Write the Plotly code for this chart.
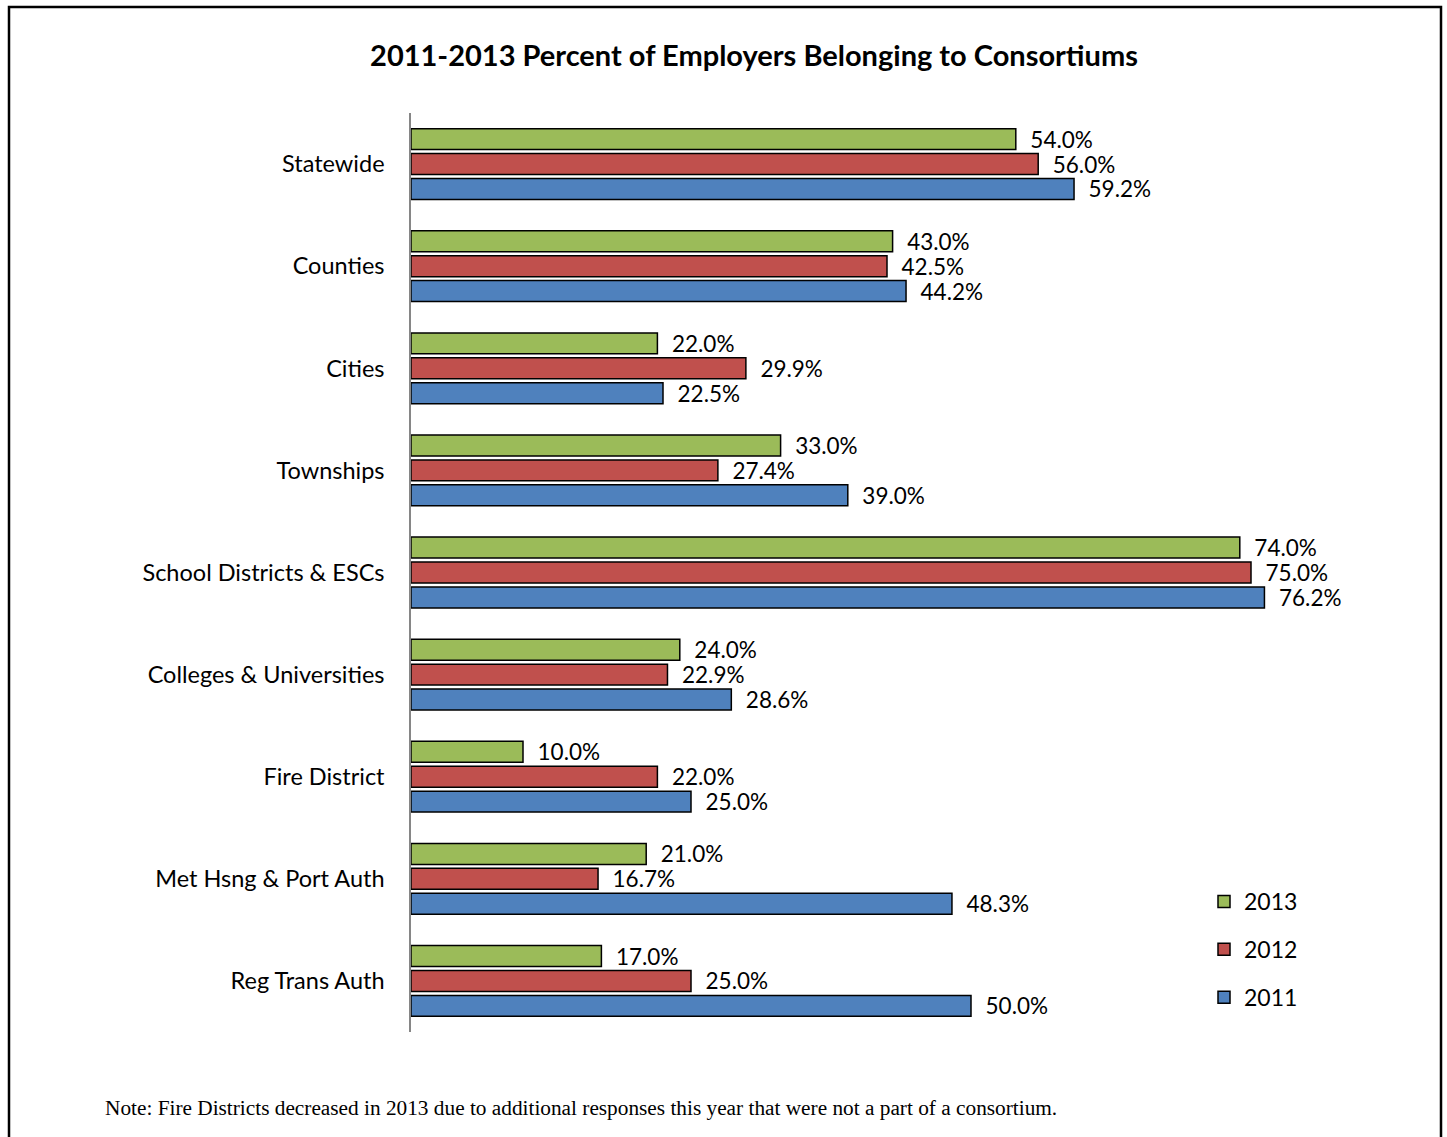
import plotly.graph_objects as go

categories = ["Statewide", "Counties", "Cities", "Townships", "School Districts & ESCs",
              "Colleges & Universities", "Fire District", "Met Hsng & Port Auth", "Reg Trans Auth"]
years = ["2013", "2012", "2011"]
values_2013 = [54.0, 43.0, 22.0, 33.0, 74.0, 24.0, 10.0, 21.0, 17.0]
values_2012 = [56.0, 42.5, 29.9, 27.4, 75.0, 22.9, 22.0, 16.7, 25.0]
values_2011 = [59.2, 44.2, 22.5, 39.0, 76.2, 28.6, 25.0, 48.3, 50.0]
colors = ["#9BBB59", "#C0504D", "#4F81BD"]
title = "2011-2013 Percent of Employers Belonging to Consortiums"
note = "Note: Fire Districts decreased in 2013 due to additional responses this year that were not a part of a consortium."

W, H = 1447, 1137
L, R, T, B = 411, 140, 113, 105
XMAX = 80.0
pw = W - L - R
ph = H - T - B

def px_x(p):
    return (p - L) / pw

def px_y(p):
    return 1 - (p - T) / ph

font = "Lato, 'Noto Sans', sans-serif"

fig = go.Figure()
for name, vals, col in zip(years, [values_2013, values_2012, values_2011], colors):
    fig.add_trace(go.Bar(
        name=name, y=categories, x=vals, orientation="h",
        marker=dict(color=col, line=dict(color="black", width=1.5)),
        text=[f"\u00a0\u00a0{v:.1f}%" for v in vals],
        textposition="outside", constraintext="none", cliponaxis=False,
        textfont=dict(family=font, size=22.5, color="black"),
        legendgroup=name, hoverinfo="skip",
    ))

fig.update_layout(
    width=W, height=H,
    margin=dict(l=L, r=R, t=T, b=B),
    paper_bgcolor="white", plot_bgcolor="white",
    barmode="group", bargap=0.268, bargroupgap=0.16,
    font=dict(family=font, size=22, color="black"),
    title=dict(text="<b>" + title + "</b>", x=px_x(754), xref="paper", xanchor="center",
               y=1 - 56 / H, yanchor="middle", font=dict(family=font, size=29, color="black")),
    xaxis=dict(range=[0, XMAX], visible=False, showgrid=False, zeroline=False, fixedrange=True),
    yaxis=dict(autorange="reversed", showline=True, linecolor="#868686", linewidth=1.5,
               ticks="", showgrid=False, ticklabelstandoff=20,
               tickfont=dict(family=font, size=23.5, color="black")),
    legend=dict(x=px_x(1204), y=px_y(880), xanchor="left", yanchor="top",
                font=dict(family=font, size=23, color="black"),
                tracegroupgap=15, bgcolor="rgba(0,0,0,0)", traceorder="grouped"),
    showlegend=True,
)

fig.add_annotation(text=note, xref="paper", yref="paper", x=px_x(103), y=px_y(1108),
                   xanchor="left", yanchor="middle", showarrow=False,
                   font=dict(family="'Liberation Serif', 'Times New Roman', serif", size=21.3, color="black"))

fig.add_shape(type="rect", xref="paper", yref="paper",
              x0=px_x(9), x1=px_x(1441), y0=px_y(1160), y1=px_y(7),
              line=dict(color="black", width=2.5), fillcolor="rgba(0,0,0,0)", layer="above")

fig.write_html("out.html", config={"displayModeBar": False},
               post_script="document.body.style.margin='0';document.body.style.overflow='hidden';")
